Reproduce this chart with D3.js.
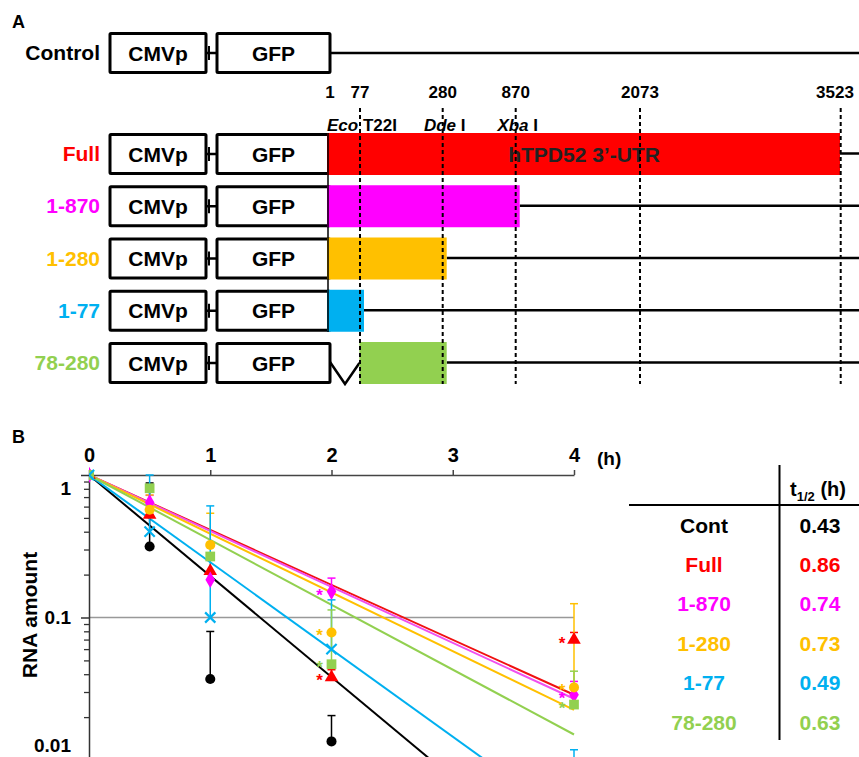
<!DOCTYPE html>
<html>
<head>
<meta charset="utf-8">
<script src="https://cdn.jsdelivr.net/npm/d3@7"></script>
<style>
  body { margin: 0; background: #fff; }
  svg { display: block; font-family: "Liberation Sans", Arial, sans-serif; font-weight: bold; }
</style>
</head>
<body>
<div id="chart"></div>
<script>
// ---- panel A : constructs ----
const constructs = ["Full", "1-870", "1-280", "1-77", "78-280"];
const utrStart = [1, 1, 1, 1, 78];
const utrEnd = [3523, 870, 280, 77, 280];
const sitePositions = [1, 77, 280, 870, 2073, 3523];
const enzymeItalic = ["Eco", "Dde", "Xba"];
const enzymeRoman = [" T22I", " I", " I"];
const enzymePos = [77, 280, 870];

// ---- panel B : decay ----
const series = ["Cont", "Full", "1-870", "1-280", "1-77", "78-280"];
const times = [0, 0.5, 1, 2, 4];
const rnaCont = [1, 0.315, 0.037, 0.0135, null];
const rnaFull = [1, 0.525, 0.212, 0.038, 0.0698];
const rna1870 = [1, 0.64, 0.184, 0.152, 0.0287];
const rna1280 = [1, 0.57, 0.323, 0.0785, 0.0323];
const rna177 = [1, 0.40, 0.1, 0.06, 0.007];
const rna78280 = [1, 0.807, 0.268, 0.047, 0.0245];
// top of error bars
const errCont = [null, 0.879, 0.0798, 0.0205, null];
const errFull = [null, null, null, 0.043, 0.0785];
const err1870 = [null, 0.72, null, 0.189, 0.0356];
const err1280 = [null, 0.724, 0.539, null, 0.125];
const err177 = [null, 1.0, 0.607, 0.133, 0.0118];
const err78280 = [null, null, null, 0.113, 0.042];
// fitted lines: value at t=0 and t=4
const fitStart = [1, 1, 1, 1, 1, 1];
const fitEnd = [0.00146, 0.0287, 0.0269, 0.0225, 0.00356, 0.0151];
// significance stars (series index, time index)
const starSeries = [2, 3, 5, 1, 1, 3, 2, 5];
const starTimes = [3, 3, 3, 3, 4, 4, 4, 4];
const halfLives = [0.43, 0.86, 0.74, 0.73, 0.49, 0.63];

const colors = ["#000000", "#FF0000", "#FF00FF", "#FFC000", "#00B0F0", "#92D050"];
const lineColors = ["#000000", "#F01010", "#F050F0", "#FFC000", "#00B0F0", "#92D050"];
const symbols = [d3.symbolCircle, d3.symbolTriangle, d3.symbolDiamond, d3.symbolCircle, d3.symbolX, d3.symbolSquare];

const rnaData = [rnaCont, rnaFull, rna1870, rna1280, rna177, rna78280];
const errData = [errCont, errFull, err1870, err1280, err177, err78280];

const W = 859, H = 757;
const svg = d3.select("#chart").append("svg").attr("width", W).attr("height", H);

// ================= panel A =================
svg.append("text").attr("x", 12).attr("y", 28).attr("font-size", 18).text("A");

const xA = d3.scaleLinear().domain(sitePositions).range([328, 360, 442.7, 515.7, 640, 840.7]);
const rowY = d3.scaleLinear().domain([0, 4]).range([154, 363]);

function cassette(y, label, color) {
  svg.append("text")
    .attr("x", 100).attr("y", y + 7)
    .attr("text-anchor", "end")
    .attr("font-size", 21)
    .attr("fill", color)
    .text(label);
  svg.append("rect").attr("x", 110).attr("y", y - 19.5).attr("width", 96).attr("height", 39)
    .attr("fill", "#fff").attr("stroke", "#000").attr("stroke-width", 3).attr("rx", 1);
  svg.append("rect").attr("x", 217).attr("y", y - 19.5).attr("width", 113).attr("height", 39)
    .attr("fill", "#fff").attr("stroke", "#000").attr("stroke-width", 3).attr("rx", 1);
  svg.append("line").attr("x1", 206).attr("x2", 217).attr("y1", y).attr("y2", y)
    .attr("stroke", "#000").attr("stroke-width", 2.5);
  svg.append("line").attr("x1", 209).attr("x2", 209).attr("y1", y - 7).attr("y2", y + 7)
    .attr("stroke", "#000").attr("stroke-width", 2);
  svg.append("text").attr("x", 158).attr("y", y + 7.5).attr("text-anchor", "middle")
    .attr("font-size", 21).text("CMVp");
  svg.append("text").attr("x", 273.5).attr("y", y + 7.5).attr("text-anchor", "middle")
    .attr("font-size", 21).text("GFP");
}

// control row
cassette(53, "Control", "#000");
svg.append("line").attr("x1", 330).attr("x2", W).attr("y1", 53).attr("y2", 53)
  .attr("stroke", "#000").attr("stroke-width", 2.5);

// position numbers
svg.selectAll(".pos")
  .data(sitePositions)
  .enter()
  .append("text")
  .attr("class", "pos")
  .attr("x", (d) => Math.min(xA(d) + (d === 1 ? 2 : 0), W - 24))
  .attr("y", 98)
  .attr("text-anchor", "middle")
  .attr("font-size", 17)
  .text((d) => d);

// enzyme names
enzymePos.forEach((p, i) => {
  const t = svg.append("text")
    .attr("x", xA(p) + 2)
    .attr("y", 131)
    .attr("text-anchor", "middle")
    .attr("font-size", 17);
  t.append("tspan").attr("font-style", "italic").text(enzymeItalic[i]);
  t.append("tspan").text(enzymeRoman[i]);
});

// construct rows
constructs.forEach((c, i) => {
  const y = rowY(i);
  cassette(y, c, colors[i + 1]);
  const x0 = xA(utrStart[i]) - 1;
  const x1 = Math.min(xA(utrEnd[i]) + 4, 840);
  svg.append("line").attr("x1", x1).attr("x2", W).attr("y1", y - 0.5).attr("y2", y - 0.5)
    .attr("stroke", "#000").attr("stroke-width", 2.5);
  if (utrStart[i] > 1) {
    svg.append("path")
      .attr("d", `M330,${y - 1}L345,${y + 21}L${x0},${y}`)
      .attr("fill", "none").attr("stroke", "#000").attr("stroke-width", 2.5);
  }
  svg.append("rect")
    .attr("x", x0).attr("y", y - 21)
    .attr("width", x1 - x0).attr("height", 42)
    .attr("fill", colors[i + 1]);
});

svg.append("text").attr("x", 584).attr("y", 162).attr("text-anchor", "middle")
  .attr("font-size", 21).attr("fill", "#222").text("hTPD52 3\u2019-UTR");

// dashed site lines
svg.selectAll(".site")
  .data(sitePositions.slice(1))
  .enter()
  .append("line")
  .attr("x1", (d) => xA(d)).attr("x2", (d) => xA(d))
  .attr("y1", 108).attr("y2", 384)
  .attr("stroke", "#000").attr("stroke-width", 2)
  .attr("stroke-dasharray", "4,3");
svg.append("line").attr("x1", xA(1)).attr("x2", xA(1)).attr("y1", 133).attr("y2", 332)
  .attr("stroke", "#000").attr("stroke-width", 1.5);

// ================= panel B =================
svg.append("text").attr("x", 12).attr("y", 443).attr("font-size", 18).text("B");

const xB = d3.scaleLinear().domain([0, 4]).range([89, 574]);
const yB = d3.scaleLog().domain([1, 0.01]).range([475, 760]);

// gridline at 0.1
svg.append("line").attr("x1", xB(0)).attr("x2", xB(4)).attr("y1", yB(0.1)).attr("y2", yB(0.1))
  .attr("stroke", "#999").attr("stroke-width", 1.5);

const xAxis = svg.append("g")
  .attr("transform", "translate(0," + yB(1) + ")")
  .call(d3.axisTop(xB).tickValues([0, 1, 2, 3, 4]).tickSize(5).tickSizeOuter(0).tickPadding(8).tickFormat(d3.format("d")));
xAxis.selectAll("text").attr("font-size", 20).attr("fill", "#000");
xAxis.selectAll("path, line").attr("stroke", "#444").attr("stroke-width", 1.5);
xAxis.attr("font-family", null);

svg.append("text").attr("x", 597).attr("y", 465).attr("font-size", 19).text("(h)");

const minorTicks = [];
[0.01, 0.1].forEach((dec) => {
  for (let k = 2; k <= 9; k++) minorTicks.push(dec * k);
});

const yMinor = svg.append("g")
  .attr("transform", "translate(" + xB(0) + ",0)")
  .call(d3.axisLeft(yB).tickValues(minorTicks).tickSize(5).tickSizeOuter(0).tickFormat(""));
yMinor.select(".domain").remove();
yMinor.selectAll("line").attr("stroke", "#333").attr("stroke-width", 1.3);

const yAxis = svg.append("g")
  .attr("transform", "translate(" + xB(0) + ",0)")
  .call(d3.axisLeft(yB).tickValues([1, 0.1, 0.01]).tickSize(8).tickSizeOuter(0).tickPadding(10)
    .tickFormat((d) => (d >= 1 ? "1" : d >= 0.1 ? "0.1" : "0.01")));
yAxis.attr("font-family", null);
yAxis.selectAll("path, line").attr("stroke", "#333").attr("stroke-width", 1.5);
yAxis.selectAll("text")
  .attr("font-size", 19)
  .attr("fill", "#000")
  .attr("y", (d) => Math.max(yB(1) + 13, Math.min(yB(0.01) - 15, yB(d))) - yB(d));

svg.append("text")
  .attr("transform", "translate(37,615) rotate(-90)")
  .attr("text-anchor", "middle")
  .attr("font-size", 21)
  .text("RNA amount");

svg.append("clipPath").attr("id", "plot")
  .append("rect").attr("x", xB(0)).attr("y", yB(1) - 10).attr("width", xB(4) - xB(0) + 10).attr("height", 300);

const plot = svg.append("g").attr("clip-path", "url(#plot)");

// fit lines
series.forEach((s, i) => {
  plot.append("line")
    .attr("x1", xB(0)).attr("y1", yB(fitStart[i]))
    .attr("x2", xB(4)).attr("y2", yB(fitEnd[i]))
    .attr("stroke", lineColors[i]).attr("stroke-width", 2);
});

// error bars
series.forEach((s, i) => {
  times.forEach((t, j) => {
    const v = rnaData[i][j], e = errData[i][j];
    if (v == null || e == null) return;
    plot.append("line")
      .attr("x1", xB(t)).attr("x2", xB(t))
      .attr("y1", yB(v)).attr("y2", yB(e))
      .attr("stroke", colors[i]).attr("stroke-width", 1.5);
    plot.append("line")
      .attr("x1", xB(t) - 4).attr("x2", xB(t) + 4)
      .attr("y1", yB(e)).attr("y2", yB(e))
      .attr("stroke", colors[i]).attr("stroke-width", 1.5);
  });
});

// markers
const markerOrder = [0, 1, 2, 3, 5, 4];
markerOrder.forEach((i) => {
  const pts = times.map((t, j) => [t, rnaData[i][j]]).filter((p) => p[1] != null);
  const isX = symbols[i] === d3.symbolX;
  plot.selectAll(".m" + i)
    .data(pts)
    .enter()
    .append("path")
    .attr("class", "m" + i)
    .attr("transform", (d) => "translate(" + xB(d[0]) + "," + yB(d[1]) + ")")
    .attr("d", d3.symbol().type(symbols[i]).size(isX ? 70 : i === 5 ? 95 : 80))
    .attr("fill", isX ? "none" : colors[i])
    .attr("stroke", isX ? colors[i] : "none")
    .attr("stroke-width", isX ? 2.2 : 0);
});

// stars
starSeries.forEach((si, k) => {
  const tj = starTimes[k];
  svg.append("text")
    .attr("x", xB(times[tj]) - 12)
    .attr("y", yB(rnaData[si][tj]) + 9)
    .attr("text-anchor", "middle")
    .attr("font-size", 17)
    .attr("fill", colors[si])
    .text("*");
});

// half-life table
svg.append("line").attr("x1", 779.5).attr("x2", 779.5).attr("y1", 465).attr("y2", 740)
  .attr("stroke", "#000").attr("stroke-width", 2);
svg.append("line").attr("x1", 629).attr("x2", W).attr("y1", 505).attr("y2", 505)
  .attr("stroke", "#000").attr("stroke-width", 2);
const hdr = svg.append("text").attr("x", 818).attr("y", 496).attr("text-anchor", "middle").attr("font-size", 20);
hdr.append("tspan").text("t");
hdr.append("tspan").attr("font-size", 13).attr("dy", 5).text("1/2");
hdr.append("tspan").attr("dy", -5).text(" (h)");

const rowT = d3.scaleLinear().domain([0, 5]).range([525, 722]);
series.forEach((s, i) => {
  svg.append("text").attr("x", 704).attr("y", rowT(i) + 7.5).attr("text-anchor", "middle")
    .attr("font-size", 21).attr("fill", colors[i]).text(s);
  svg.append("text").attr("x", 820).attr("y", rowT(i) + 7.5).attr("text-anchor", "middle")
    .attr("font-size", 21).attr("fill", colors[i]).text(d3.format(".2f")(halfLives[i]));
});
</script>
</body>
</html>
